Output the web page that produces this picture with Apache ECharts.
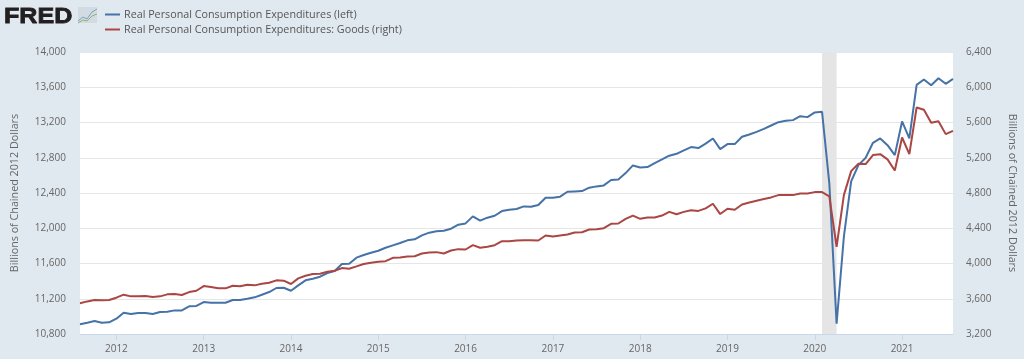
<!DOCTYPE html>
<html><head><meta charset="utf-8">
<style>html,body{margin:0;padding:0;background:#e1e9f0}#c{width:1024px;height:359px}</style>
<script src="https://cdn.jsdelivr.net/npm/echarts@6/dist/echarts.min.js"></script>
</head><body><div id="c"></div>
<script>
const startYear = 2011, startMonth = 8;
const pce = [10910,10928,10947,10928,10932,
10974,11042,11027,11038,11038,11027,11050,11053,11068,11068,11114,11118,
11163,11155,11155,11155,11186,11186,11200,11216,11246,11276,11322,11325,
11291,11352,11409,11427,11450,11492,11514,11594,11598,11666,11696,11722,
11745,11779,11806,11832,11863,11874,11919,11950,11965,11972,11995,12040,
12055,12135,12086,12120,12142,12195,12210,12218,12248,12244,12263,12346,
12346,12358,12414,12418,12422,12460,12475,12486,12547,12554,12626,12713,
12690,12694,12740,12781,12823,12845,12883,12921,12910,12960,13019,12898,
12955,12955,13038,13064,13094,13128,13166,13204,13219,13227,13272,13261,
13314,13321,12509,10917,11904,12531,12716,12800,12970,13019,12943,12830,
13212,13019,13627,13688,13623,13703,13639,13695];
const goods = [3548,3570,3586,3582,3586,
3612,3646,3627,3627,3631,3620,3627,3650,3654,3642,3676,3691,
3744,3733,3718,3718,3748,3741,3759,3752,3771,3782,3809,3805,
3767,3831,3861,3880,3884,3907,3918,3948,3941,3967,3994,4009,
4020,4026,4064,4068,4079,4083,4113,4125,4129,4113,4147,4163,
4159,4208,4178,4189,4208,4253,4253,4261,4265,4265,4261,4318,
4306,4318,4329,4352,4355,4386,4389,4401,4450,4454,4507,4544,
4507,4522,4522,4544,4586,4559,4586,4605,4597,4625,4678,4561,
4621,4610,4670,4693,4712,4731,4750,4776,4776,4776,4795,4795,
4810,4810,4761,4190,4776,5048,5132,5128,5230,5241,5181,5056,
5430,5241,5770,5744,5597,5615,5468,5506];
const seriesNames = ['Real Personal Consumption Expenditures (left)','Real Personal Consumption Expenditures: Goods (right)'];
const axisTitle = 'Billions of Chained 2012 Dollars';
const recession = ['2020-02','2020-04'];
const categories = pce.map((_, i) => {
  const m = startYear * 12 + startMonth - 1 + i;
  return Math.floor(m / 12) + '-' + String(m % 12 + 1).padStart(2, '0');
});
const isJan = (i, v) => v.endsWith('-01');
const FONT = '"Open Sans"';
const chart = echarts.init(document.getElementById('c'), null, {renderer:'canvas'});
chart.setOption({
  animation:false,
  backgroundColor:'#e1e9f0',
  textStyle:{fontFamily:FONT},
  grid:{left:80,right:71,top:52,bottom:25,backgroundColor:'#fff',show:true,borderWidth:0,containLabel:false,outerBoundsMode:'none'},
  legend:{orient:'vertical',left:100,top:4,itemWidth:15,itemHeight:2,itemGap:4,icon:'rect',
    textStyle:{fontFamily:FONT,fontSize:10.75,color:'#555',padding:[0,0,0,-1]},
    data:seriesNames},
  xAxis:{type:'category',boundaryGap:false,data:categories,
    axisLine:{show:true,lineStyle:{color:'#ccd6eb',width:1}},
    axisTick:{show:true,interval:isJan,length:6,inside:false,lineStyle:{color:'#ccd6eb',width:1}},
    axisLabel:{interval:isJan,hideOverlap:false,formatter:v=>v.slice(0,4),color:'#666',fontSize:10,margin:10},
    splitLine:{show:false}},
  yAxis:[
   {type:'value',min:10800,max:14000,interval:400,position:'left',
    name:axisTitle,nameLocation:'middle',nameGap:60,nameTextStyle:{color:'#666',fontSize:10.75},
    axisLine:{show:false},axisTick:{show:false},
    axisLabel:{color:'#666',fontSize:10,margin:14,formatter:v=>v.toLocaleString('en-US')},
    splitLine:{show:true,lineStyle:{color:'#e6e6e6',width:1}}},
   {type:'value',min:3200,max:6400,interval:400,position:'right',
    name:axisTitle,nameLocation:'middle',nameGap:54,nameRotate:-90,nameTextStyle:{color:'#666',fontSize:10.75},
    axisLine:{show:false},axisTick:{show:false},
    axisLabel:{color:'#666',fontSize:10,margin:13,formatter:v=>v.toLocaleString('en-US')},
    splitLine:{show:false}}
  ],
  series:[
   {name:seriesNames[0],type:'line',yAxisIndex:0,data:pce,showSymbol:false,symbol:'none',
    lineStyle:{color:'#4572a7',width:2},itemStyle:{color:'#4572a7'},z:3,
    markArea:{silent:true,itemStyle:{color:'#e5e5e5'},data:[[{xAxis:recession[0]},{xAxis:recession[1]}]]}},
   {name:seriesNames[1],type:'line',yAxisIndex:1,data:goods,showSymbol:false,symbol:'none',
    lineStyle:{color:'#aa4643',width:2},itemStyle:{color:'#aa4643'},z:4}
  ],
  graphic:[
   {type:'text',x:4,y:6,scaleX:1.14,style:{text:'FRED',fontFamily:'"Liberation Sans"',fontWeight:'bold',fontSize:22,fill:'#231f20',stroke:'#231f20',lineWidth:0.8}},
   {type:'rect',shape:{x:78,y:7,width:19,height:16},style:{fill:'#d3dbe2'}},
   {type:'polyline',shape:{points:[[78,21],[83,17],[87,19],[92,12],[97,9]]},style:{stroke:'#7f9fc0',fill:'none',lineWidth:1}},
   {type:'polyline',shape:{points:[[78,23],[83,20],[87,21],[92,16],[97,14]]},style:{stroke:'#8fb56a',fill:'none',lineWidth:1}}
  ]
});
</script></body></html>
